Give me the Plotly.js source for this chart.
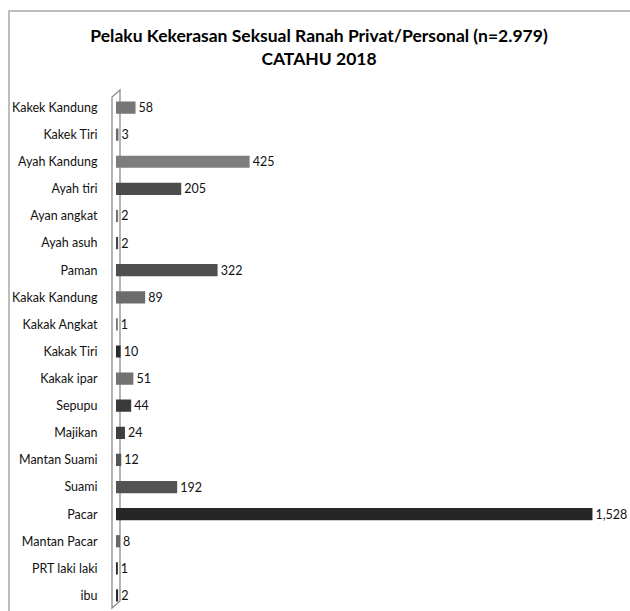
<!DOCTYPE html>
<html>
<head>
<meta charset="utf-8">
<script src="https://cdn.plot.ly/plotly-3.0.1.min.js"></script>
<style>html,body{margin:0;padding:0;background:#fff;}</style>
</head>
<body>
<div id="chart" style="width:630px;height:611px;"></div>
<script>
const categories = ["Kakek Kandung","Kakek Tiri","Ayah Kandung","Ayah tiri","Ayan angkat","Ayah asuh","Paman","Kakak Kandung","Kakak Angkat","Kakak Tiri","Kakak ipar","Sepupu","Majikan","Mantan Suami","Suami","Pacar","Mantan Pacar","PRT laki laki","ibu"];
const values = [58,3,425,205,2,2,322,89,1,10,51,44,24,12,192,1528,8,1,2];
const barColors = ["#767676","#686868","#7d7d7d","#4c4c4c","#747474","#444444","#4f4f4f","#6c6c6c","#747474","#2c2c2c","#727272","#3a3a3a","#3f3f3f","#555555","#535353","#262626","#666666","#232323","#2a2a2a"];

const W = 630, H = 611;
const mL = 116, mR = 12, mT = 94, mB = 2;
const pw = W - mL - mR, ph = H - mT - mB;
const px = x => (x - mL) / pw;
const py = y => (H - mB - y) / ph;

const trace = {
  type: 'bar',
  orientation: 'h',
  y: categories,
  x: values,
  width: 0.34,
  marker: {color: barColors, line: {color: barColors, width: 3}},
  text: values.map(v => '\u2009' + v.toLocaleString('en-US')),
  textposition: 'outside',
  constraintext: 'none',
  textfont: {family: 'Lato, sans-serif', size: 12.5, color: '#111'},
  cliponaxis: false,
  hoverinfo: 'none'
};

const layout = {
  width: W, height: H,
  margin: {l: mL, r: mR, t: mT, b: mB},
  paper_bgcolor: '#fff', plot_bgcolor: 'rgba(0,0,0,0)',
  showlegend: false,
  title: {
    text: '<b>Pelaku Kekerasan Seksual Ranah Privat/Personal (n=2.979)<br>CATAHU 2018</b>',
    font: {family: 'Lato, sans-serif', size: 17.5, color: '#000'},
    x: 0.5 + 4 / W, xanchor: 'center', xref: 'container',
    y: 1 - 42 / H, yanchor: 'middle', yref: 'container'
  },
  xaxis: {range: [0, 1615], visible: false, fixedrange: true},
  yaxis: {
    autorange: 'reversed', type: 'category',
    showgrid: false, zeroline: false, showline: false,
    ticks: 'outside', ticklen: 15, tickcolor: 'rgba(0,0,0,0)',
    tickfont: {family: 'Lato, sans-serif', size: 12.5, color: '#111'}
  },
  shapes: [
    {type: 'rect', xref: 'paper', yref: 'paper', x0: px(9), x1: px(700), y0: py(11), y1: py(700),
     line: {color: '#bdbdbd', width: 2}, fillcolor: 'rgba(0,0,0,0)', layer: 'below'},
    {type: 'path', xref: 'paper', yref: 'paper', layer: 'below',
     path: `M ${px(112)} ${py(608)} L ${px(112)} ${py(97)} L ${px(120)} ${py(90)} L ${px(120)} ${py(601)} Z`,
     line: {color: '#8c8c8c', width: 1.3}, fillcolor: 'rgba(0,0,0,0)'}
  ]
};

Plotly.newPlot('chart', [trace], layout, {displayModeBar: false, staticPlot: true});
</script>
</body>
</html>
